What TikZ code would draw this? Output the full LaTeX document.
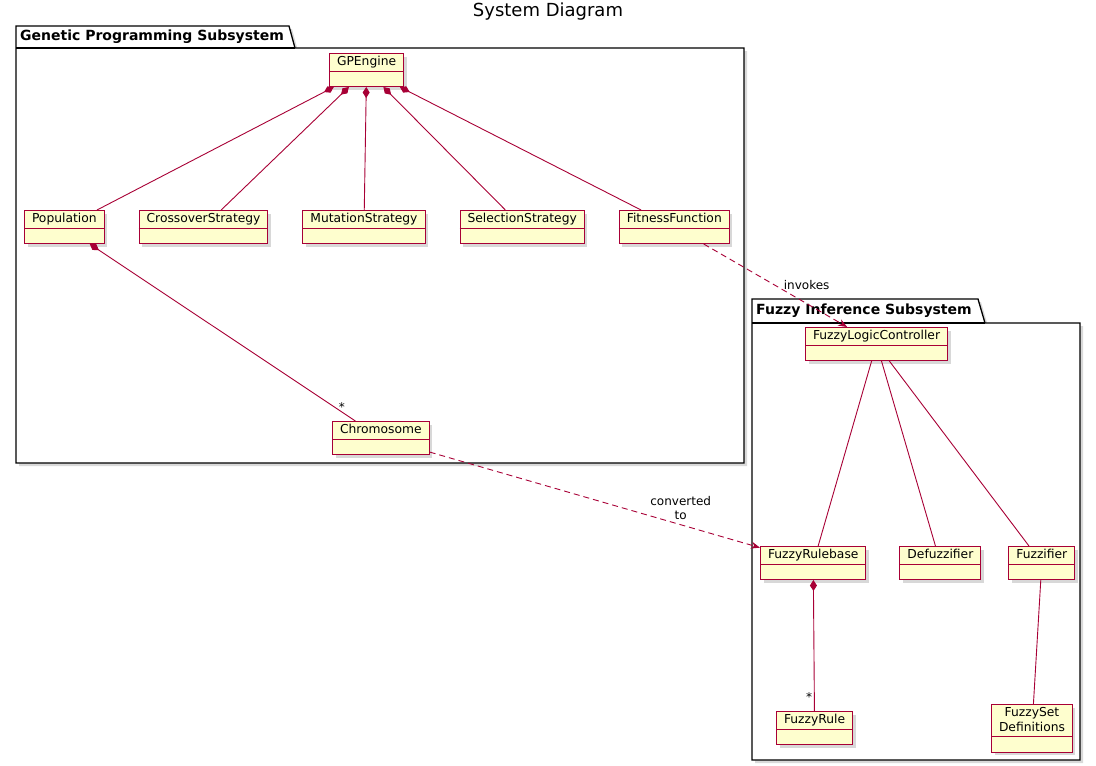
\documentclass[tikz,border=0pt]{standalone}
\usepackage{fontspec}
\setmainfont{DejaVu Sans}
\usepackage{xcolor}
\usepackage{tikz}
\usetikzlibrary{arrows.meta,positioning,shadows,backgrounds}
\definecolor{umlred}{HTML}{A80036}
\definecolor{umlfill}{HTML}{FEFECE}

\begin{document}
\begin{tikzpicture}[
  x=1pt, y=-1pt,
  node distance=34pt,
  cls/.style={rectangle, draw=umlred, line width=1pt, fill=umlfill, anchor=north west,
    font=\fontsize{12.3}{14.5}\selectfont, inner xsep=7.5pt, inner ysep=3pt,
    text height=9pt, text depth=18pt,
    drop shadow={shadow xshift=3pt, shadow yshift=-3pt, opacity=0.3},
    append after command={([yshift=-#1]\tikzlastnode.north west) edge[sepline] ([yshift=-#1]\tikzlastnode.north east)}},
  cls/.default=18pt,
  sepline/.style={draw=umlred, line width=1pt},
  assoc/.style={draw=umlred, line width=0.9pt},
  comp/.style={assoc, {Diamond[length=11pt,width=7pt]}-},
  dep/.style={assoc, dash pattern=on 6pt off 4pt, -{Stealth[length=9pt,width=7pt]}},
  pkg/.style={draw=black, line width=1.3pt, fill=white,
    drop shadow={shadow xshift=3pt, shadow yshift=-3pt, opacity=0.3}},
  pkgline/.style={draw=black, line width=1.3pt},
  pkglabel/.style={font=\bfseries\fontsize{14}{16}\selectfont, anchor=west, inner sep=0pt},
  lbl/.style={font=\fontsize{12}{14}\selectfont, inner sep=2pt}
]
\useasboundingbox (0,0) rectangle (1096,766);

\node[font=\fontsize{18}{20}\selectfont] (title) at (548,12) {System Diagram};

\node[cls] (gpe) at (329,53) {GPEngine};
\node[cls] (pop) at (24,210) {Population};
\node[cls, right=of pop] (cross) {CrossoverStrategy};
\node[cls, right=of cross] (mut) {MutationStrategy};
\node[cls, right=of mut] (sel) {SelectionStrategy};
\node[cls, right=of sel] (fit) {FitnessFunction};
\node[cls] (chrom) at (332,421) {Chromosome};

\node[cls] (flc) at (805,327) {FuzzyLogicController};
\node[cls] (frb) at (760,546) {FuzzyRulebase};
\node[cls, right=33pt of frb] (defz) {Defuzzifier};
\node[cls, right=27pt of defz] (fuzz) {Fuzzifier};
\node[cls] (frule) at (776,711) {FuzzyRule};
\node[cls=32.5pt, text depth=32.5pt] (fset) at (991,704) {\begin{tabular}[t]{@{}c@{}}FuzzySet\\Definitions\end{tabular}};

\draw[comp] (gpe) -- (pop);
\draw[comp] (gpe) -- (cross);
\draw[comp] (gpe) -- (mut);
\draw[comp] (gpe) -- (sel);
\draw[comp] (gpe) -- (fit);
\draw[comp] (pop) -- (chrom) node[lbl, at end, anchor=south east, xshift=-8pt, yshift=7pt] {*};
\draw[dep] (fit) -- (flc) node[lbl, midway, right, xshift=6pt] {invokes};
\draw[dep] (chrom) -- (frb) node[lbl, pos=0.76, above=3pt, align=center] {converted\\to};
\draw[assoc] (flc) -- (frb);
\draw[assoc] (flc) -- (defz);
\draw[assoc] (flc) -- (fuzz);
\draw[comp] (frb) -- (frule) node[lbl, at end, anchor=south east, yshift=7pt] {*};
\draw[assoc] (fuzz) -- (fset);

\begin{scope}[on background layer]
\draw[pkg] (16,48) -- (16,26) -- (289,26) -- (295,48) -- (744,48) -- (744,463) -- (16,463) -- cycle;
\draw[pkgline] (16,48) -- (295,48);
\node[pkglabel] (gplabel) at (20,37) {Genetic Programming Subsystem};
\draw[pkg] (752,323) -- (752,299) -- (978,299) -- (985,323) -- (1080,323) -- (1080,760) -- (752,760) -- cycle;
\draw[pkgline] (752,323) -- (985,323);
\node[pkglabel] (fzlabel) at (756,311) {Fuzzy Inference Subsystem};
\end{scope}
\end{tikzpicture}
\end{document}
